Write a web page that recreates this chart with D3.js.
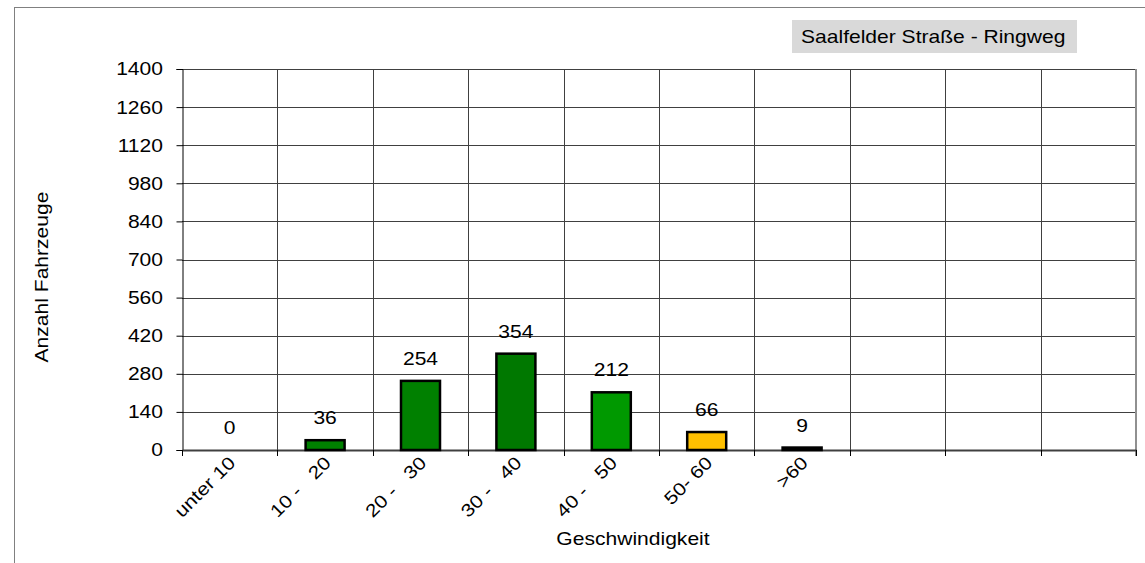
<!DOCTYPE html>
<html>
<head>
<meta charset="utf-8">
<script src="https://cdn.jsdelivr.net/npm/d3@7"></script>
<style>
  body { margin: 0; background: #fff; }
  text { font-family: Arial, "Liberation Sans", sans-serif; fill: #000; font-size: 18px; }
</style>
</head>
<body>
<div id="chart"></div>
<script>
const width = 1145;
const height = 563;
const margin = { top: 69, right: 9, bottom: 113, left: 182 };

// data
const categories = ["unter 10", "10 -   20", "20 -   30", "30 -   40", "40 -   50", "50- 60", ">60", "", " ", "  "];
const counts = [0, 36, 254, 354, 212, 66, 9];
const barColors = ["#008000", "#008000", "#008000", "#007800", "#009900", "#ffc000", "#ff0000"];
const yTicks = [0, 140, 280, 420, 560, 700, 840, 980, 1120, 1260, 1400];
const title = "Saalfelder Straße - Ringweg";

const stretch = 1.17; // text in the original is a bit wide

const svg = d3.select("#chart")
  .append("svg")
  .attr("width", width)
  .attr("height", height);

// draws a text with the horizontal stretch
function label(parent, tx, ty, rot, anchor, str, dy) {
  const g = parent.append("g")
    .attr("transform", `translate(${tx},${ty}) rotate(${rot}) scale(${stretch},1)`);
  g.append("text")
    .attr("text-anchor", anchor)
    .attr("dy", dy || 0)
    .style("white-space", "pre")
    .text(str);
  return g;
}

// outer frame
svg.append("rect")
  .attr("x", 14.5).attr("y", 7.5)
  .attr("width", 1140).attr("height", 600)
  .attr("fill", "none")
  .attr("stroke", "#808080")
  .attr("stroke-width", 1);

const plotW = 1136 - margin.left;
const plotH = 450 - margin.top;

const x = d3.scaleBand()
  .domain(categories)
  .range([margin.left, margin.left + plotW])
  .paddingInner(0)
  .paddingOuter(0);

const y = d3.scaleLinear()
  .domain([0, 1400])
  .range([margin.top + plotH, margin.top]);

// horizontal grid
svg.append("g")
  .selectAll("line")
  .data(yTicks.filter(d => d > 0))
  .enter().append("line")
  .attr("x1", margin.left).attr("x2", margin.left + plotW)
  .attr("y1", d => Math.round(y(d)) + 0.5)
  .attr("y2", d => Math.round(y(d)) + 0.5)
  .attr("stroke", "#404040")
  .attr("stroke-width", 1);

// vertical grid
svg.append("g")
  .selectAll("line")
  .data(categories.slice(1))
  .enter().append("line")
  .attr("x1", d => Math.round(x(d)) + 0.5)
  .attr("x2", d => Math.round(x(d)) + 0.5)
  .attr("y1", margin.top).attr("y2", margin.top + plotH)
  .attr("stroke", "#404040")
  .attr("stroke-width", 1);

// right border of plot
svg.append("line")
  .attr("x1", margin.left + plotW).attr("x2", margin.left + plotW)
  .attr("y1", margin.top).attr("y2", margin.top + plotH + 6)
  .attr("stroke", "#909090")
  .attr("stroke-width", 2);

// y axis, labels drawn by hand below
const yAxis = svg.append("g")
  .attr("transform", `translate(${margin.left + 0.5},0)`)
  .call(d3.axisLeft(y).tickValues(yTicks).tickSize(6).tickFormat(""));
yAxis.select(".domain").attr("stroke", "#000");
yAxis.selectAll(".tick line").attr("stroke", "#000");

const yLab = svg.append("g");
yTicks.forEach(t => {
  label(yLab, 163, y(t), 0, "end", d3.format("d")(t), "0.36em");
});

// x axis
const xAxis = svg.append("g")
  .attr("transform", `translate(0,${margin.top + plotH})`)
  .call(d3.axisBottom(x).tickSize(0).tickFormat(""));
xAxis.select(".domain").attr("stroke", "#404040").attr("stroke-width", 2);

// x ticks between categories
svg.append("g")
  .selectAll("line")
  .data(categories.concat(["end"]))
  .enter().append("line")
  .attr("x1", (d, i) => Math.round(margin.left + i * x.bandwidth()) + 0.5)
  .attr("x2", (d, i) => Math.round(margin.left + i * x.bandwidth()) + 0.5)
  .attr("y1", margin.top + plotH)
  .attr("y2", margin.top + plotH + 6)
  .attr("stroke", "#000");

// x labels, rotated
const xLab = svg.append("g");
categories.slice(0, counts.length).forEach(c => {
  label(xLab, x(c) + x.bandwidth() / 2 - 2, margin.top + plotH + 5, -45, "end", c, "0.7em");
});

// bars
const barW = 39;
svg.append("g")
  .selectAll("rect")
  .data(counts)
  .enter().append("rect")
  .filter(d => d > 0)
  .attr("x", d => x(categories[counts.indexOf(d)]) + (x.bandwidth() - barW) / 2)
  .attr("y", d => y(d))
  .attr("width", barW)
  .attr("height", d => y(0) - y(d))
  .attr("fill", d => barColors[counts.indexOf(d)])
  .attr("stroke", "#000")
  .attr("stroke-width", 2.5);

// value labels
const vLab = svg.append("g");
counts.forEach((v, i) => {
  label(vLab, x(categories[i]) + x.bandwidth() / 2, y(v) - 16, 0, "middle", String(v));
});

// axis titles
label(svg, 633, 545, 0, "middle", "Geschwindigkeit");
label(svg, 48, 277, -90, "middle", "Anzahl Fahrzeuge");

// title box
svg.append("rect")
  .attr("x", 792).attr("y", 20)
  .attr("width", 285).attr("height", 33)
  .attr("fill", "#d9d9d9");

label(svg, 801, 43, 0, "start", title);
</script>
</body>
</html>
